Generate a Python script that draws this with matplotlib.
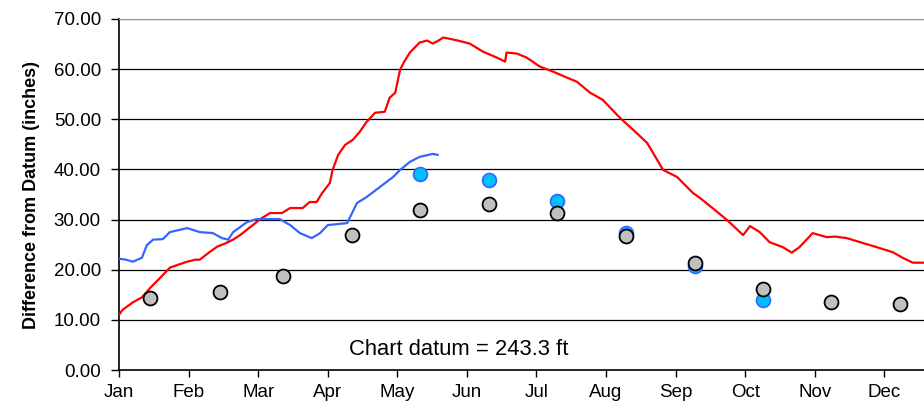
import numpy as np
import matplotlib.pyplot as plt

plt.rcParams['font.family'] = ['Liberation Sans', 'DejaVu Sans']

months = ['Jan', 'Feb', 'Mar', 'Apr', 'May', 'Jun', 'Jul', 'Aug', 'Sep', 'Oct', 'Nov', 'Dec']

# x in months since Jan 1
red_x = [0.0, 0.05, 0.2, 0.33, 0.45, 0.6, 0.73, 0.85, 0.98, 1.1, 1.16, 1.3, 1.41, 1.52,
         1.64, 1.75, 1.84, 1.95, 2.03, 2.17, 2.34, 2.46, 2.64, 2.74, 2.84, 2.92, 3.03,
         3.07, 3.15, 3.25, 3.36, 3.46, 3.56, 3.68, 3.82, 3.89, 3.97, 4.04, 4.1, 4.18,
         4.32, 4.43, 4.51, 4.58, 4.66, 4.77, 4.87, 5.04, 5.23, 5.43, 5.55, 5.57, 5.72,
         5.86, 6.05, 6.24, 6.44, 6.58, 6.77, 6.95, 7.2, 7.39, 7.59, 7.82, 8.02, 8.25,
         8.35, 8.53, 8.74, 8.97, 9.07, 9.21, 9.35, 9.54, 9.67, 9.78, 9.97, 10.17, 10.3,
         10.46, 10.65, 10.89, 11.12, 11.26, 11.41, 11.57]
red_y = [11.0, 12.0, 13.5, 14.5, 16.4, 18.5, 20.4, 21.0, 21.6, 22.0, 22.0, 23.5, 24.6, 25.2,
         26.0, 27.0, 28.0, 29.2, 30.1, 31.3, 31.3, 32.3, 32.3, 33.5, 33.5, 35.3, 37.3,
         39.9, 42.9, 44.9, 45.9, 47.5, 49.5, 51.3, 51.5, 54.3, 55.3, 59.9, 61.5, 63.3,
         65.3, 65.7, 65.1, 65.6, 66.3, 66.0, 65.7, 65.1, 63.5, 62.3, 61.5, 63.3, 63.1,
         62.3, 60.5, 59.5, 58.3, 57.5, 55.3, 53.9, 50.3, 47.9, 45.3, 39.9, 38.5, 35.3,
         34.3, 32.3, 29.9, 26.9, 28.7, 27.5, 25.5, 24.5, 23.4, 24.5, 27.3, 26.5, 26.6,
         26.3, 25.5, 24.5, 23.5, 22.4, 21.4, 21.4]

blue_x = [0.0, 0.1, 0.2, 0.33, 0.4, 0.49, 0.63, 0.73, 0.98, 1.16, 1.35, 1.48, 1.57, 1.64,
          1.84, 1.98, 2.31, 2.46, 2.6, 2.77, 2.89, 3.0, 3.28, 3.42, 3.56, 3.75, 3.94,
          4.04, 4.18, 4.32, 4.51, 4.58]
blue_y = [22.2, 22.0, 21.6, 22.4, 24.9, 26.0, 26.1, 27.5, 28.3, 27.5, 27.3, 26.3, 26.0, 27.5,
          29.5, 30.1, 30.1, 28.9, 27.3, 26.3, 27.3, 28.9, 29.3, 33.3, 34.5, 36.5, 38.5,
          39.9, 41.5, 42.5, 43.1, 42.9]

gray_x = [0.45, 1.45, 2.36, 3.35, 4.32, 5.32, 6.29, 7.28, 8.28, 9.25, 10.24, 11.22]
gray_y = [14.4, 15.6, 18.8, 26.9, 31.9, 33.1, 31.3, 26.7, 21.4, 16.2, 13.6, 13.2]

cyan_x = [4.32, 5.32, 6.29, 7.28, 8.28, 9.25]
cyan_y = [39.1, 37.9, 33.7, 27.3, 20.8, 14.0]

fig = plt.figure(figsize=(9.24, 4.05), dpi=100)
ax = fig.add_axes([0.1288, 0.0864, 0.8712, 0.8667])

for v in range(10, 80, 10):
    ax.axhline(v, color='black', lw=0.9, zorder=1)

ax.plot(red_x, red_y, color='#FF0000', lw=1.6, zorder=3)
ax.plot(blue_x, blue_y, color='#3366FF', lw=1.6, zorder=3)
ax.plot(cyan_x, cyan_y, 'o', ms=10, mfc='#00BFFF', mec='#3366FF', mew=1.2, zorder=4)
ax.plot(gray_x, gray_y, 'o', ms=10, mfc='#C0C0C0', mec='black', mew=1.3, zorder=5)

ax.set_xlim(0, 11.57)
ax.set_ylim(0, 70)
ax.set_xticks(np.arange(12), months, fontsize=13.5)
ax.set_yticks(np.arange(0, 80, 10), ['%.2f' % v for v in range(0, 80, 10)], fontsize=13.5)
ax.tick_params(axis='y', direction='out', length=6, width=1, pad=7, colors='black')
ax.tick_params(axis='x', direction='out', length=5, width=1, pad=5, colors='black')
ax.spines['right'].set_visible(False)
ax.spines['top'].set_color('#999999')
ax.spines['left'].set_linewidth(1.2)
ax.spines['bottom'].set_linewidth(1.2)

ax.set_ylabel('Difference from Datum (inches)', fontsize=13, fontweight='bold', labelpad=10)
ax.text(3.31, 4.0, 'Chart datum = 243.3 ft', fontsize=15.8, ha='left', va='center')

fig.savefig('out.png', dpi=100)
